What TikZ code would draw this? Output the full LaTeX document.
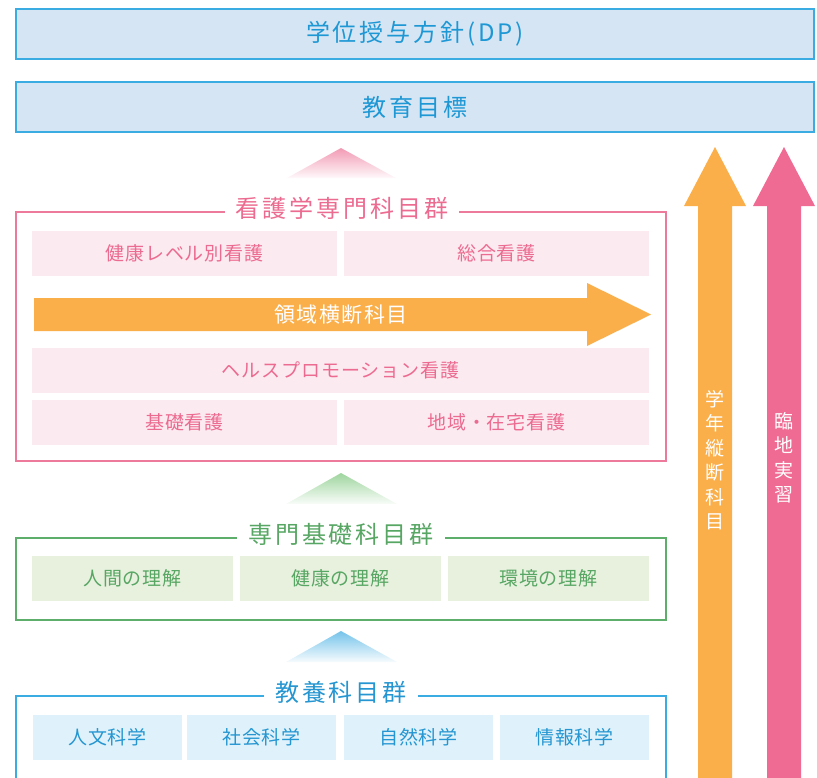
\documentclass[tikz,border=0pt]{standalone}
\usepackage{fontspec}
\setmainfont{Noto Sans CJK JP}
\newfontfamily\jpsub[LetterSpace=5]{Noto Sans CJK JP}
\newfontfamily\jpmid[LetterSpace=7]{Noto Sans CJK JP}
\newfontfamily\jptitle[LetterSpace=12]{Noto Sans CJK JP}
\usepackage{tikz}
\usetikzlibrary{positioning}
\definecolor{dpline}{HTML}{3AACE2}
\definecolor{dpfill}{HTML}{D5E5F4}
\definecolor{dptext}{HTML}{1E98D5}
\definecolor{kyofill}{HTML}{DFF2FB}
\definecolor{kyotext}{HTML}{2596D1}
\definecolor{kyotri}{HTML}{74C3EA}
\definecolor{kanline}{HTML}{EE7A9B}
\definecolor{kantext}{HTML}{EC6B90}
\definecolor{kanfill}{HTML}{FCEAF1}
\definecolor{kantri}{HTML}{F29AB4}
\definecolor{kisoline}{HTML}{5DAD6B}
\definecolor{kisotext}{HTML}{57A663}
\definecolor{kisofill}{HTML}{E8F1DE}
\definecolor{kisotri}{HTML}{9ED59E}
\definecolor{ryoorange}{HTML}{FAAF4B}
\definecolor{rinpink}{HTML}{F06B93}
\tikzset{
  topbox/.style={draw=dpline,fill=dpfill,line width=1.3pt,text=dptext,
    minimum width=798pt,minimum height=50pt,inner sep=0pt,
    font=\jptitle\fontsize{24}{27}\selectfont},
  grouptitle/.style={fill=white,inner xsep=11pt,inner ysep=2pt,
    font=\jptitle\fontsize{24}{27}\selectfont},
  subbox/.style={minimum height=45pt,inner sep=0pt,
    font=\jpsub\fontsize{19}{22}\selectfont},
  kansub/.style={subbox,fill=kanfill,text=kantext},
  kisosub/.style={subbox,fill=kisofill,text=kisotext},
  kyosub/.style={subbox,fill=kyofill,text=kyotext},
  frameline/.style={line width=1.3pt},
  vtext/.style={text=white,align=center,inner sep=0pt,
    font=\fontsize{19}{24.5}\selectfont}
}
\begin{document}
\begin{tikzpicture}[x=1pt,y=-1pt]
\useasboundingbox (0,0) rectangle (817,777);
\clip (0,0) rectangle (817,777);
% top
\node[topbox] (dp) at (415,34) {学位授与方針(DP)};
\node[topbox] (goal) at (415,107) {教育目標};
% vertical arrows
\fill[ryoorange] (698,790) -- (698,206) -- (684,206) -- (715,147) -- (746,206) -- (732,206) -- (732,790) -- cycle;
\fill[rinpink] (767,790) -- (767,206) -- (753,206) -- (784,147) -- (815,206) -- (801,206) -- (801,790) -- cycle;
\node[vtext] (gakunen) at (715,460) {学\\年\\縦\\断\\科\\目};
\node[vtext] (rinchi) at (784,458) {臨\\地\\実\\習};
% nursing
\shade[top color=kantri,bottom color=kantri!6] (287,178) -- (341,148) -- (396,178) -- cycle;
\draw[frameline,kanline] (16,212) rectangle (666,461);
\node[grouptitle,text=kantext] (kango) at (342,208) {看護学専門科目群};
\node[kansub,minimum width=305pt] (n1) at (184.5,253) {健康レベル別看護};
\node[kansub,minimum width=305pt] (n2) at (496.5,253) {総合看護};
\fill[ryoorange] (34,298) -- (587,298) -- (587,283) -- (651,314.5) -- (587,346) -- (587,331) -- (34,331) -- cycle;
\node[text=white,font=\jpmid\fontsize{21}{24}\selectfont] (ryoiki) at (341,314.5) {領域横断科目};
\node[kansub,minimum width=617pt] (n3) at (340.5,370) {ヘルスプロモーション看護};
\node[kansub,minimum width=305pt] (n4) at (184.5,422.5) {基礎看護};
\node[kansub,minimum width=305pt] (n5) at (496.5,422.5) {地域・在宅看護};
% basic
\shade[top color=kisotri,bottom color=kisotri!6] (286,504) -- (341,473) -- (397,504) -- cycle;
\draw[frameline,kisoline] (16,538) rectangle (666,620);
\node[grouptitle,text=kisotext] (kiso) at (341,534) {専門基礎科目群};
\node[kisosub,minimum width=201pt] (b1) at (132.5,578.5) {人間の理解};
\node[kisosub,minimum width=201pt] (b2) at (340.5,578.5) {健康の理解};
\node[kisosub,minimum width=201pt] (b3) at (548.5,578.5) {環境の理解};
% liberal arts
\shade[top color=kyotri,bottom color=kyotri!6] (286,662) -- (341,631) -- (397,662) -- cycle;
\draw[frameline,dpline] (16,696) rectangle (666,800);
\node[grouptitle,text=kyotext] (kyoyo) at (341,692) {教養科目群};
\node[kyosub,minimum width=149pt] (c1) at (107.5,737) {人文科学};
\node[kyosub,minimum width=149pt] (c2) at (261.5,737) {社会科学};
\node[kyosub,minimum width=149pt] (c3) at (418.5,737) {自然科学};
\node[kyosub,minimum width=149pt] (c4) at (574.5,737) {情報科学};
\end{tikzpicture}
\end{document}
